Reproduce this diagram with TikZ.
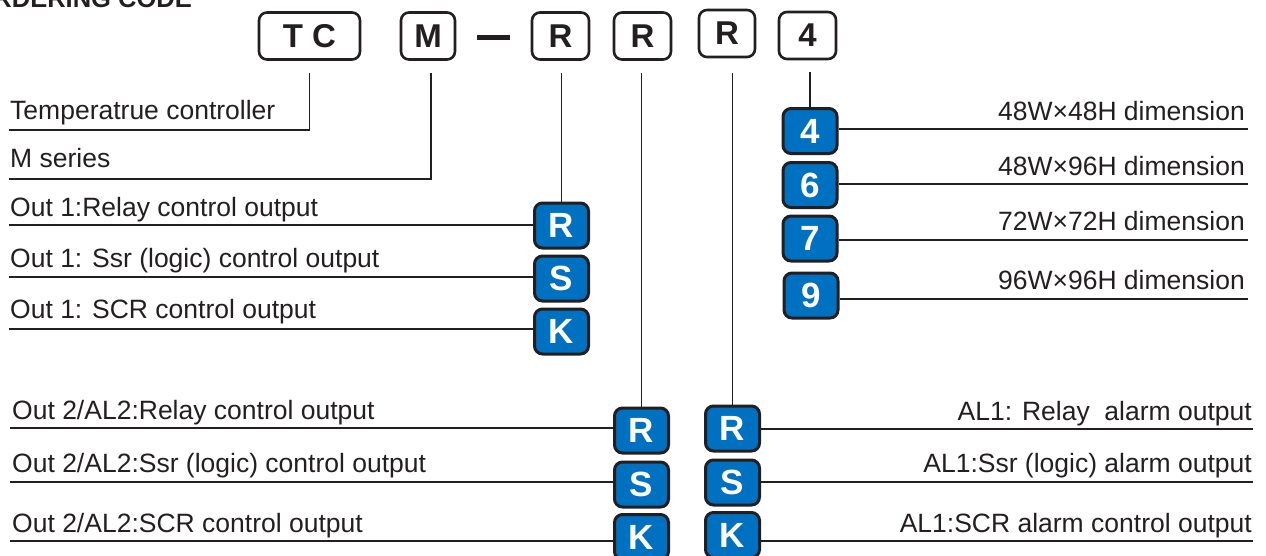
\documentclass[tikz,border=0pt]{standalone}
\usepackage{fontspec}
\setmainfont{Liberation Sans}
\usetikzlibrary{calc}
\definecolor{boxblue}{HTML}{0070C0}
\definecolor{ink}{HTML}{231F20}
\begin{document}
\begin{tikzpicture}[x=1pt,y=-1pt,
  codebox/.style={draw=ink,line width=2.6pt,rounded corners=8pt,fill=white,minimum height=47pt,inner sep=0pt,font=\fontsize{33}{38}\selectfont\bfseries,text=ink},
  optbox/.style={draw=ink,line width=3pt,rounded corners=8pt,fill=boxblue,minimum width=54pt,minimum height=45pt,inner sep=0pt,text=white,font=\fontsize{35}{40}\selectfont\bfseries},
  lbl/.style={inner sep=0pt,font=\fontsize{26.5}{30}\selectfont,text=ink},
  conn/.style={draw=ink,line width=1.3pt}]
\useasboundingbox (0,0) rectangle (1266,555);
\clip (0,0) rectangle (1266,555);
% heading (cut off at the top, as in the reference)
\node[inner sep=0pt,anchor=base east,font=\fontsize{25.5}{30}\selectfont\bfseries,text=ink] (head) at (192,7) {ORDERING CODE};
% code boxes
\node[codebox,minimum width=101pt] (tc) at (309.5,36) {T C};
\node[codebox,minimum width=54pt] (m) at (428,36) {M};
\node[fill=ink,minimum width=33pt,minimum height=5pt,inner sep=0pt] (dash) at (493.5,37) {};
\node[codebox,minimum width=57pt] (r1) at (560.5,36) {R};
\node[codebox,minimum width=57pt] (r2) at (642.5,36) {R};
\node[codebox,minimum width=56pt] (r3) at (727,33.5) {R};
\node[codebox,minimum width=57pt] (d4) at (807.5,35.5) {4};
% option boxes
\node[optbox] (b1R) at (561.5,225.5) {R};
\node[optbox] (b1S) at (561.5,278.5) {S};
\node[optbox] (b1K) at (561.5,331.5) {K};
\node[optbox] (b4) at (810,131) {4};
\node[optbox] (b6) at (810,185) {6};
\node[optbox] (b7) at (810,238.5) {7};
\node[optbox] (b9) at (811,295.5) {9};
\node[optbox] (b2R) at (641.5,430.5) {R};
\node[optbox] (b2S) at (641.5,484.5) {S};
\node[optbox] (b2K) at (641.5,537) {K};
\node[optbox] (b3R) at (732.5,428.5) {R};
\node[optbox] (b3S) at (732.5,482.5) {S};
\node[optbox] (b3K) at (732.5,535) {K};
% left labels
\node[lbl,anchor=base west] (lt) at (10,119) {Temperatrue controller};
\node[lbl,anchor=base west] (lm) at (10,167) {M series};
\node[lbl,anchor=base west] (l1r) at (10,216) {Out 1:Relay control output};
\node[lbl,anchor=base west] (l1s) at (10,267) {Out 1: Ssr (logic) control output};
\node[lbl,anchor=base west] (l1k) at (10,318) {Out 1: SCR control output};
\node[lbl,anchor=base west] (l2r) at (12,419) {Out 2/AL2:Relay control output};
\node[lbl,anchor=base west] (l2s) at (12,472) {Out 2/AL2:Ssr (logic) control output};
\node[lbl,anchor=base west] (l2k) at (12,532) {Out 2/AL2:SCR control output};
% right labels
\node[lbl,anchor=base east] (ld4) at (1245,120) {48W×48H dimension};
\node[lbl,anchor=base east] (ld6) at (1245,175) {48W×96H dimension};
\node[lbl,anchor=base east] (ld7) at (1245,230) {72W×72H dimension};
\node[lbl,anchor=base east] (ld9) at (1245,289) {96W×96H dimension};
\node[lbl,anchor=base east] (l3r) at (1252,420) {AL1: Relay\ \ alarm output};
\node[lbl,anchor=base east] (l3s) at (1252,472) {AL1:Ssr (logic) alarm output};
\node[lbl,anchor=base east] (l3k) at (1252,532) {AL1:SCR alarm control output};
% line end coordinates
\coordinate (et) at (9,130);
\coordinate (em) at (9,179);
\coordinate (e1r) at (9,225);
\coordinate (e1s) at (9,277);
\coordinate (e1k) at (9,329);
\coordinate (e2r) at (10,428);
\coordinate (e2s) at (10,482);
\coordinate (e2k) at (10,541);
\coordinate (e4) at (1248,129);
\coordinate (e6) at (1248,184);
\coordinate (e7) at (1248,240);
\coordinate (e9) at (1248,299);
\coordinate (e3r) at (1253,429);
\coordinate (e3s) at (1253,482);
\coordinate (e3k) at (1253,541);
% connectors
\draw[conn] ([yshift=-12pt]tc.south) |- (et);
\draw[conn] ([xshift=3pt,yshift=-12pt]m.south) |- (em);
\draw[conn] (b1R.north) -- ($(b1R.north |- r1.south)+(0,12)$);
\draw[conn] (b2R.north) -- ($(b2R.north |- r2.south)+(0,12)$);
\draw[conn] (b3R.north) -- ($(b3R.north |- r1.south)+(0,12)$);
\draw[conn] (b4.north) -- ($(b4.north |- d4.south)+(0,12)$);
\draw[conn] (e1r) -- (e1r -| b1R.west);
\draw[conn] (e1s) -- (e1s -| b1S.west);
\draw[conn] (e1k) -- (e1k -| b1K.west);
\draw[conn] (e2r) -- (e2r -| b2R.west);
\draw[conn] (e2s) -- (e2s -| b2S.west);
\draw[conn] (e2k) -- (e2k -| b2K.west);
\draw[conn] (e4) -- (e4 -| b4.east);
\draw[conn] (e6) -- (e6 -| b6.east);
\draw[conn] (e7) -- (e7 -| b7.east);
\draw[conn] (e9) -- (e9 -| b9.east);
\draw[conn] (e3r) -- (e3r -| b3R.east);
\draw[conn] (e3s) -- (e3s -| b3S.east);
\draw[conn] (e3k) -- (e3k -| b3K.east);
\end{tikzpicture}
\end{document}
